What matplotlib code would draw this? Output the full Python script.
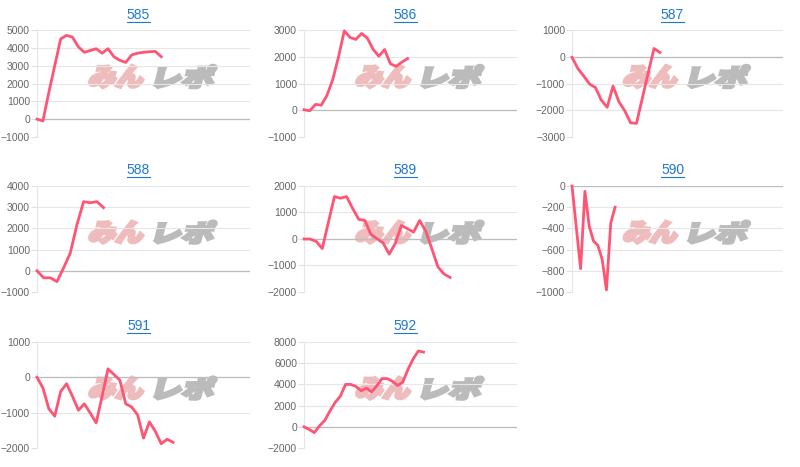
import numpy as np
import matplotlib
matplotlib.use('Agg')
import matplotlib.pyplot as plt
from matplotlib.textpath import TextPath
from matplotlib.font_manager import FontProperties
from matplotlib.patches import PathPatch
from matplotlib.transforms import Affine2D
from matplotlib.lines import Line2D

plt.rcParams['font.family'] = ['Liberation Sans', 'DejaVu Sans']

# 台番号ごとの差枚推移
names = ['585', '586', '587', '588', '589', '590', '591', '592']
d585 = [0, -100, 1500, 3000, 4500, 4700, 4600, 4050, 3750, 3850, 3950, 3700, 3950, 3500,
        3300, 3180, 3600, 3700, 3750, 3780, 3800, 3500]
d586 = [20, -20, 220, 190, 560, 1150, 2000, 2970, 2720, 2650, 2870, 2700, 2280, 2020, 2270,
        1740, 1640, 1800, 1930]
d587 = [-20, -440, -720, -1020, -1150, -1620, -1890, -1100, -1680, -2020, -2470, -2490,
        -1550, -600, 310, 160]
d588 = [0, -330, -330, -510, 140, 840, 2170, 3260, 3210, 3260, 2980]
d589 = [0, 0, -90, -360, 620, 1600, 1540, 1600, 1150, 740, 700, 170, 10, -150, -570, -170,
        510, 390, 260, 700, 300, -360, -1050, -1320, -1450]
d590 = [0, -390, -780, -50, -380, -520, -560, -690, -980, -350, -200]
d591 = [0, -300, -890, -1100, -400, -180, -540, -930, -750, -1010, -1290, -540, 240, 80, -80,
        -750, -840, -1060, -1720, -1260, -1530, -1880, -1750, -1840]
d592 = [0, -250, -550, 100, 600, 1500, 2300, 2900, 4000, 4000, 3800, 3400, 3650, 3300, 3850,
        4550, 4550, 4300, 3900, 4200, 5400, 6400, 7150, 7050]
series = [d585, d586, d587, d588, d589, d590, d591, d592]
n_labels = [37, 38, 37, 33, 36, 50, 37, 42]  # x軸のラベル数（データより多い）
y_axes = [(-1000, 5000, 1000), (-1000, 3000, 1000), (-3000, 1000, 1000), (-1000, 4000, 1000),
          (-2000, 2000, 1000), (-1000, 0, 200), (-2000, 1000, 1000), (-2000, 8000, 2000)]

W, H = 800, 467
fig = plt.figure(figsize=(W / 100, H / 100), dpi=100)

cols = [(37, 250), (304, 517), (572, 783)]
rows = [(30, 137), (186, 292), (342, 448)]
title_y = [15, 170, 326]

fp = FontProperties(family='Noto Sans CJK JP', weight='heavy')


def logo(ax, text, color, x0, x1, y0, y1):
    # 透かしロゴ（ピクセル座標の箱に合わせて斜体っぽく）
    tp = TextPath((0, 0), text, prop=fp, size=1)
    ext = tp.get_extents()
    w = (x1 - x0) / 100
    h = (y1 - y0) / 100
    sh = np.tan(np.radians(14))
    tr = (Affine2D().translate(-ext.x0, -ext.y0)
          .scale((w - h * sh) / ext.width, h / ext.height)
          .skew(np.radians(14), 0)
          .translate(x0 / 100, (H - y1) / 100))
    ax.add_patch(PathPatch(tp, transform=tr + fig.dpi_scale_trans, facecolor=color,
                           edgecolor=color, lw=2.2, joinstyle='miter', zorder=0.5, clip_on=False))


titles = []
for k, name in enumerate(names):
    r, c = divmod(k, 3)
    x0, x1 = cols[c]
    y0, y1 = rows[r]
    ax = fig.add_axes([x0 / W, 1 - y1 / H, (x1 - x0) / W, (y1 - y0) / H])
    vals = series[k]
    lo, hi, step = y_axes[k]
    ax.plot(range(len(vals)), vals, color='#ff5473', lw=2.0, solid_joinstyle='round',
            zorder=3, clip_on=False)
    ax.set_xlim(0, n_labels[k] - 1)
    ax.set_ylim(lo, hi)
    ax.set_yticks(np.arange(lo, hi + 1, step))
    ax.set_xticks([])
    ax.yaxis.grid(True, color='#e6e6e6', lw=0.8)
    ax.set_axisbelow(True)
    for s in ['top', 'right', 'bottom']:
        ax.spines[s].set_visible(False)
    ax.spines['left'].set_color('#e6e6e6')
    ax.axhline(0, color='#bdbdbd', lw=0.9, zorder=1)
    ax.tick_params(axis='y', length=4, color='#e0e0e0', labelsize=7.5, labelcolor='#666666', pad=1)

    w = x1 - x0
    hh = y1 - y0
    logo(ax, 'みん', '#eebcbc', x0 + 0.24 * w, x0 + 0.515 * w, y1 - 0.67 * hh, y1 - 0.46 * hh)
    logo(ax, 'レポ', '#bbbbbb', x0 + 0.55 * w, x0 + 0.845 * w, y1 - 0.67 * hh, y1 - 0.46 * hh)

    t = fig.text(((x0 + x1) / 2 - 5) / W, 1 - title_y[r] / H, name, ha='center', va='center',
                 color='#1f78d1', fontsize=10)
    titles.append(t)

# タイトルに下線
fig.canvas.draw()
rend = fig.canvas.get_renderer()
for t in titles:
    bb = t.get_window_extent(rend).transformed(fig.transFigure.inverted())
    fig.add_artist(Line2D([bb.x0, bb.x1], [bb.y0 + 0.3 / H, bb.y0 + 0.3 / H],
                          transform=fig.transFigure, color='#1f78d1', lw=0.8))

fig.savefig('out.png', dpi=100, facecolor='white')
